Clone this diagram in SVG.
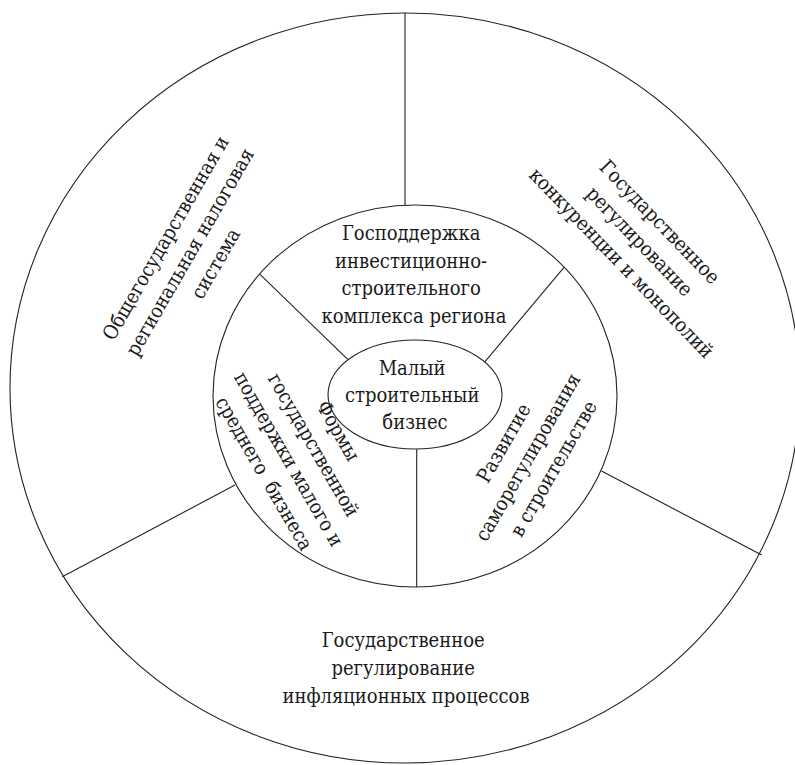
<svg xmlns="http://www.w3.org/2000/svg" width="795" height="765" viewBox="0 0 795 765">
  <style>
    .ring { fill: none; stroke: #222; stroke-width: 1.1; }
    .line { stroke: #222; stroke-width: 1.1; fill: none; }
    .lbl { font-family: "DejaVu Serif Condensed", "DejaVu Serif", serif; font-stretch: condensed; font-size: 20px; fill: #1a1a1a; text-anchor: middle; }
  </style>
  <rect width="795" height="765" fill="#fff"/>

  <!-- outer ring -->
  <g id="outer-ring">
    <ellipse class="ring" cx="405" cy="388" rx="395" ry="375"/>
  </g>

  <!-- inner ring -->
  <g id="inner-ring">
    <ellipse class="ring" cx="415" cy="396" rx="202" ry="191"/>
  </g>

  <!-- sector dividers -->
  <g id="connectors">
    <line class="line" x1="405" y1="13" x2="405" y2="205"/>
    <line class="line" x1="260" y1="274.3" x2="347.7" y2="359.3"/>
    <line class="line" x1="564" y1="267.3" x2="485" y2="361.7"/>
    <line class="line" x1="416.7" y1="449.3" x2="416.7" y2="587"/>
    <line class="line" x1="62.3" y1="576.7" x2="235" y2="485"/>
    <line class="line" x1="601.5" y1="471" x2="761.7" y2="555"/>
  </g>

  <!-- core -->
  <g id="core">
    <ellipse class="ring" cx="415" cy="394.5" rx="87" ry="54.5" fill="#fff"/>
    <text class="lbl">
      <tspan x="415" y="375">Малый</tspan>
      <tspan x="415" y="402">строительный</tspan>
      <tspan x="415" y="429">бизнес</tspan>
    </text>
  </g>

  <!-- inner sectors -->
  <g id="inner-top">
    <text class="lbl">
      <tspan x="414" y="240">Господдержка</tspan>
      <tspan x="414" y="267.5">инвестиционно-</tspan>
      <tspan x="414" y="295">строительного</tspan>
      <tspan x="414" y="322.5">комплекса региона</tspan>
    </text>
  </g>

  <g id="inner-left">
    <text class="lbl" transform="translate(300.5 452.5) rotate(60)" xml:space="preserve"><tspan x="0" y="-36.75">Формы</tspan><tspan x="0" y="-8.25">государственной</tspan><tspan x="0" y="20.25">поддержки малого и</tspan><tspan x="0" y="48.75">среднего  бизнеса</tspan></text>
  </g>

  <g id="inner-right">
    <text class="lbl" transform="translate(530 455) rotate(-60)">
      <tspan x="0" y="-22">Развитие</tspan>
      <tspan x="0" y="6">саморегулирования</tspan>
      <tspan x="0" y="34">в строительстве</tspan>
    </text>
  </g>

  <!-- outer sectors -->
  <g id="outer-left">
    <text class="lbl" transform="translate(192 250) rotate(-60)">
      <tspan x="0" y="-22">Общегосударственная и</tspan>
      <tspan x="0" y="6">региональная налоговая</tspan>
      <tspan x="0" y="34">система</tspan>
    </text>
  </g>

  <g id="outer-right">
    <text class="lbl" transform="translate(641 244) rotate(46)">
      <tspan x="0" y="-22">Государственное</tspan>
      <tspan x="0" y="6">регулирование</tspan>
      <tspan x="0" y="34">конкуренции и монополий</tspan>
    </text>
  </g>

  <g id="outer-bottom">
    <text class="lbl">
      <tspan x="406" y="647">Государственное</tspan>
      <tspan x="406" y="675">регулирование</tspan>
      <tspan x="406" y="702.5">инфляционных процессов</tspan>
    </text>
  </g>
</svg>
